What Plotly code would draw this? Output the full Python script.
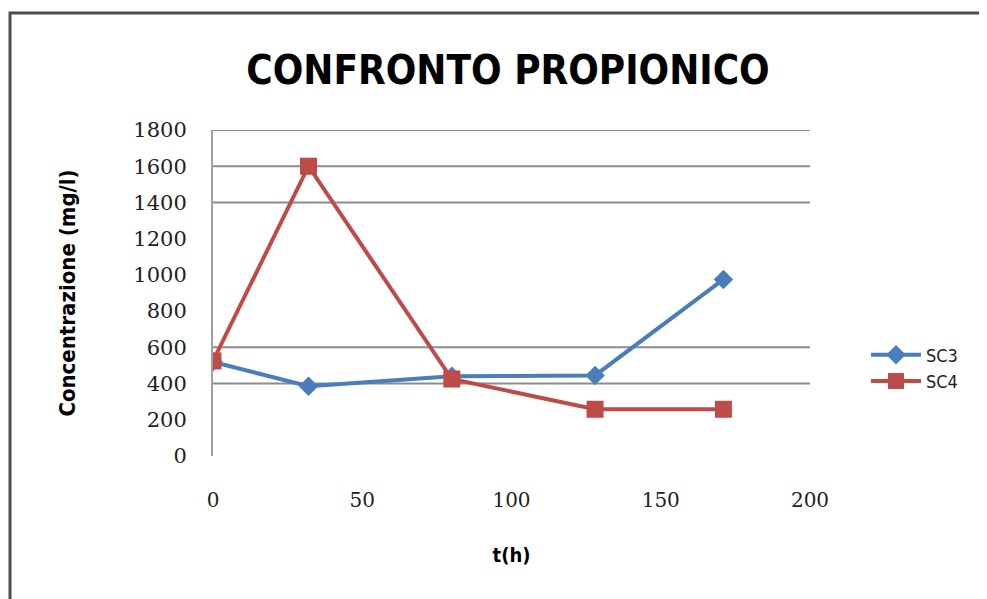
import plotly.graph_objects as go

# Data
t_sc3 = [0, 32, 80, 128, 171]
sc3 = [520, 385, 440, 445, 975]
t_sc4 = [0, 32, 80, 128, 171]
sc4 = [525, 1600, 425, 258, 258]
series_names = ["SC3", "SC4"]
grid_values = [400, 600, 1400, 1600, 1800]  # gridlines visible in the reference
y_ticks = list(range(0, 1801, 200))
x_ticks = [0, 50, 100, 150, 200]

W, H = 987, 599
OFF = 8  # page body margin
L, R, T, B = 213 - OFF, 185, 130 - OFF, 151
pw, ph = W - L - R, H - T - B

SANS = "DejaVu Sans Condensed, Lato, sans-serif"

fig = go.Figure()
fig.add_trace(go.Scatter(
    x=t_sc3, y=sc3, name=series_names[0], mode="lines+markers",
    line=dict(color="#4A7EBB", width=4),
    marker=dict(symbol="diamond", size=15, color="#4A7EBB"),
))
fig.add_trace(go.Scatter(
    x=t_sc4, y=sc4, name=series_names[1], mode="lines+markers",
    line=dict(color="#BE4B48", width=4),
    marker=dict(symbol="square", size=17, color="#BE4B48"),
))

shapes = []
for g in grid_values:
    shapes.append(dict(type="line", xref="paper", yref="y", x0=0, x1=1, y0=g, y1=g,
                       line=dict(color="#8C8C8C", width=2), layer="below"))
# outer chart frame (left/top edges visible, right/bottom beyond the picture)
fx0, fy_top = 10 - OFF, 13 - OFF
shapes.append(dict(type="rect", xref="paper", yref="paper",
                   x0=(fx0 - L) / pw, x1=(W + 40 - L) / pw,
                   y0=(T + ph - (H + 40)) / ph, y1=(T + ph - fy_top) / ph,
                   line=dict(color="#4D4D4D", width=3), fillcolor="rgba(0,0,0,0)"))

fig.update_layout(
    width=W, height=H,
    margin=dict(l=L, r=R, t=T, b=B),
    paper_bgcolor="white", plot_bgcolor="white",
    shapes=shapes,
    title=dict(text="<b>CONFRONTO PROPIONICO</b>", x=(508 - OFF) / W, xanchor="center",
               y=1 - (70 - OFF) / H, yanchor="middle",
               font=dict(family=SANS, size=40, color="black")),
    xaxis=dict(range=[0, 200], tickvals=x_ticks, showgrid=False, zeroline=False,
               showline=False, ticks="", ticklabelstandoff=30,
               tickfont=dict(family="DejaVu Serif", size=20, color="#222"),
               title=dict(text="<b>t(h)</b>", standoff=36,
                          font=dict(family=SANS, size=20, color="black"))),
    yaxis=dict(range=[0, 1800], tickvals=y_ticks, showgrid=False, zeroline=False,
               showline=True, linecolor="#A0A0A0", linewidth=2, ticks="",
               ticklabelstandoff=20,
               tickfont=dict(family="DejaVu Serif", size=21, color="#222"),
               title=dict(text="<b>Concentrazione (mg/l)</b>", standoff=52,
                          font=dict(family=SANS, size=22, color="black"))),
    legend=dict(x=(866 - OFF - L) / pw, y=(456 - 368) / ph, xanchor="left", yanchor="middle",
                font=dict(family=SANS, size=18, color="#222"),
                bgcolor="rgba(0,0,0,0)", itemwidth=50, tracegroupgap=10),
    showlegend=True,
)

fig.write_html("out.html")
